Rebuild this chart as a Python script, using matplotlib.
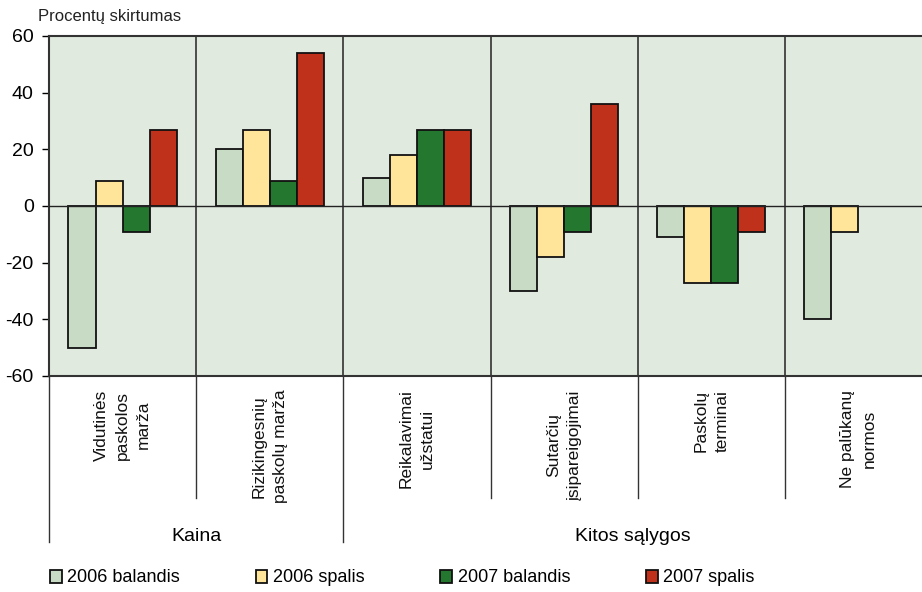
import numpy as np
import matplotlib
matplotlib.use("Agg")
import matplotlib.pyplot as plt

plt.rcParams['axes.unicode_minus'] = False
FONT = ['Liberation Sans', 'DejaVu Sans']

categories = ["Vidutinės\npaskolos\nmarža", "Rizikingesnių\npaskolų marža",
              "Reikalavimai\nužstatui", "Sutarčių\nįsipareigojimai",
              "Paskolų\nterminai", "Ne palūkanų\nnormos"]
groups = ["Kaina", "Kitos sąlygos"]
series = ["2006 balandis", "2006 spalis", "2007 balandis", "2007 spalis"]
v_2006_bal = [-50, 20, 10, -30, -11, -40]
v_2006_spa = [9, 27, 18, -18, -27, -9]
v_2007_bal = [-9, 9, 27, -9, -27, np.nan]
v_2007_spa = [27, 54, 27, 36, -9, np.nan]
values = [v_2006_bal, v_2006_spa, v_2007_bal, v_2007_spa]
colors = ["#c8dbc5", "#fee59a", "#23772f", "#bf311b"]

fig = plt.figure(figsize=(9.22, 5.92), dpi=100)
ax = fig.add_axes([49/922, 1-376/592, 1-49/922, 340/592])
ax.set_facecolor("#e1eadf")

x = np.arange(len(categories))
w = 0.184
handles = []
for i, (vals, c) in enumerate(zip(values, colors)):
    b = ax.bar(x + (i-1.5)*w, vals, w, color=c, edgecolor="#111111", linewidth=1.3,
               label=series[i], zorder=3)
    handles.append(b)

xmax = 5.5 - 10/147
ax.set_xlim(-0.5, xmax)
ax.set_ylim(-60, 60)
ax.set_yticks(range(-60, 61, 20))
ax.tick_params(axis='y', length=5, width=1, direction='out', pad=6, labelsize=14)
for t in ax.get_yticklabels():
    t.set_family(FONT)
ax.set_xticks([])
ax.axhline(0, color="#222222", lw=1, zorder=4)
ax.spines["right"].set_visible(False)
for s in ["top", "bottom", "left"]:
    ax.spines[s].set_linewidth(1.5)
    ax.spines[s].set_color("#333333")

# separators between categories, carried down into the label area
tr = ax.get_xaxis_transform()
for b in np.arange(0.5, 5, 1):
    ax.axvline(b, color="#333333", lw=1.2, zorder=2)
    low = -0.488 if b == 1.5 else -0.359
    ax.plot([b, b], [0, low], transform=tr, color="#333333", lw=1, clip_on=False)
ax.plot([-0.5, -0.5], [0, -0.488], transform=tr, color="#333333", lw=1, clip_on=False)

for xi, lab in zip(x, categories):
    ax.text(xi, -0.04, lab, transform=tr, rotation=90, ha='center', va='top',
            multialignment='center', fontsize=12.5, family=FONT, color="#111111",
            linespacing=1.5)

ax.text(0.5, -0.472, groups[0], transform=tr, ha='center', va='center',
        fontsize=14, family=FONT)
ax.text((1.5 + xmax)/2, -0.472, groups[1], transform=tr, ha='center',
        va='center', fontsize=14, family=FONT)

fig.text(38/922, 1-17/592, "Procentų skirtumas", ha='left', va='center',
         fontsize=12, family=FONT, color="#222222")

fig.legend(handles=handles, labels=series, loc='center left', ncol=4,
           bbox_to_anchor=(50/922, 1-578/592), frameon=False,
           prop={'family': FONT, 'size': 13}, handlelength=0.65,
           handleheight=0.7, handletextpad=0.3, columnspacing=4.2,
           borderaxespad=0, borderpad=0)

fig.savefig("out.png", dpi=100)
